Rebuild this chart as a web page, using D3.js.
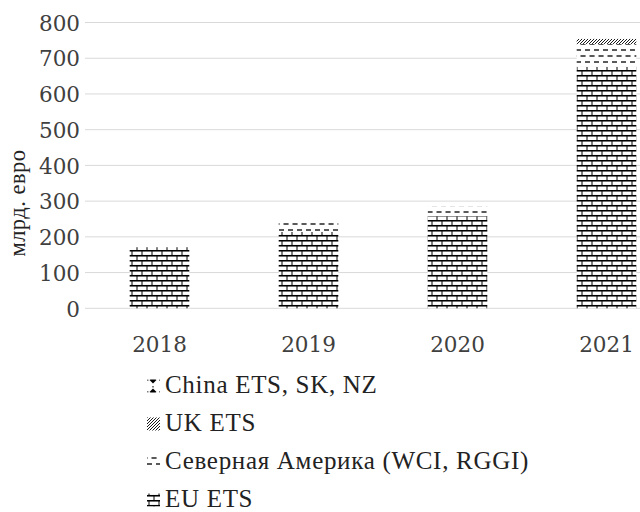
<!DOCTYPE html>
<html>
<head>
<meta charset="utf-8">
<script src="https://cdn.jsdelivr.net/npm/d3@7"></script>
<style>
  html, body { margin: 0; padding: 0; background: #fff; }
  svg { display: block; }
  .serif { font-family: "Liberation Serif", "Times New Roman", "DejaVu Serif"; }
  .slab { font-family: "DejaVu Serif", serif; }
</style>
</head>
<body>
<svg id="chart" width="640" height="512"></svg>
<script>
// ---- data ----
const years = ["2018", "2019", "2020", "2021"];
const euEts = [171, 214, 258, 676];
const northAmerica = [0, 28, 26, 64];
const ukEts = [0, 0, 0, 14];
const chinaEts = [0, 0, 0, 1];
const yTicks = [0, 100, 200, 300, 400, 500, 600, 700, 800];
const seriesNames = ["EU ETS", "Северная Америка (WCI, RGGI)", "UK ETS", "China ETS, SK, NZ"];
const legendOrder = ["China ETS, SK, NZ", "UK ETS", "Северная Америка (WCI, RGGI)", "EU ETS"];
const yTitle = "млрд. евро";

const svg = d3.select("#chart");
const defs = svg.append("defs");

// patterns
const pBrick = defs.append("pattern").attr("id", "p-brick").attr("patternUnits", "userSpaceOnUse")
  .attr("width", 10).attr("height", 10);
pBrick.append("rect").attr("width", 10).attr("height", 10).attr("fill", "#fff");
pBrick.append("line").attr("x1", 0).attr("x2", 10).attr("y1", 0.75).attr("y2", 0.75).attr("stroke", "#000").attr("stroke-width", 1.6);
pBrick.append("line").attr("x1", 0).attr("x2", 10).attr("y1", 5.75).attr("y2", 5.75).attr("stroke", "#000").attr("stroke-width", 1.6);
pBrick.append("line").attr("x1", 2).attr("x2", 2).attr("y1", 0).attr("y2", 5).attr("stroke", "#000").attr("stroke-width", 1);
pBrick.append("line").attr("x1", 7).attr("x2", 7).attr("y1", 5).attr("y2", 10).attr("stroke", "#000").attr("stroke-width", 1);

const pDash = defs.append("pattern").attr("id", "p-dash").attr("patternUnits", "userSpaceOnUse")
  .attr("width", 9).attr("height", 12);
pDash.append("rect").attr("width", 9).attr("height", 12).attr("fill", "#fff");
pDash.append("line").attr("x1", 0).attr("x2", 5).attr("y1", 2).attr("y2", 2).attr("stroke", "#000").attr("stroke-width", 1.3);
pDash.append("line").attr("x1", 4.5).attr("x2", 9.5).attr("y1", 8).attr("y2", 8).attr("stroke", "#000").attr("stroke-width", 1.3);
pDash.append("line").attr("x1", -0.5).attr("x2", 0.5).attr("y1", 8).attr("y2", 8).attr("stroke", "#000").attr("stroke-width", 1.3);

const pHatch = defs.append("pattern").attr("id", "p-hatch").attr("patternUnits", "userSpaceOnUse")
  .attr("width", 3).attr("height", 3);
pHatch.append("rect").attr("width", 3).attr("height", 3).attr("fill", "#fff");
pHatch.append("path").attr("d", "M-0.75,0.75 l1.5,-1.5 M0,3 l3,-3 M2.25,3.75 l1.5,-1.5")
  .attr("stroke", "#000").attr("stroke-width", 0.9);

const pDots = defs.append("pattern").attr("id", "p-dots").attr("patternUnits", "userSpaceOnUse")
  .attr("width", 12).attr("height", 12);
pDots.append("rect").attr("width", 12).attr("height", 12).attr("fill", "#fff");
pDots.append("path").attr("d", "M6,2.5 L9.5,6 L6,9.5 L2.5,6 Z").attr("fill", "#000");
pDots.append("rect").attr("x", 5.5).attr("y", 0).attr("width", 1).attr("height", 1.5).attr("fill", "#000");
pDots.append("rect").attr("x", 0).attr("y", 5.5).attr("width", 1.5).attr("height", 1).attr("fill", "#000");

const patternFor = {
  "EU ETS": "url(#p-brick)",
  "Северная Америка (WCI, RGGI)": "url(#p-dash)",
  "UK ETS": "url(#p-hatch)",
  "China ETS, SK, NZ": "url(#p-dots)"
};

// scales
const x = d3.scaleBand().domain(years).range([85, 681]).paddingInner(0.6).paddingOuter(0.3);
const y = d3.scaleLinear().domain([0, 800]).range([308.3, 22.5]);

// gridlines
svg.append("g").selectAll("line").data(yTicks).join("line")
  .attr("x1", 85).attr("x2", 681)
  .attr("y1", d => y(d)).attr("y2", d => y(d))
  .attr("stroke", "#d9d9d9").attr("stroke-width", 1);

// y axis labels
const yAxis = d3.axisLeft(y).tickValues(yTicks).tickSize(0).tickPadding(0);
const yg = svg.append("g").attr("transform", "translate(80,0)").call(yAxis);
yg.select(".domain").remove();
yg.attr("font-family", null).attr("font-size", null);
yg.selectAll("text").attr("class", "slab").attr("font-size", 21.5).attr("fill", "#404040")
  .attr("dy", "0.36em");

// x axis labels
const xAxis = d3.axisBottom(x).tickSize(0).tickPadding(0);
const xg = svg.append("g").attr("transform", "translate(0,352)").call(xAxis);
xg.select(".domain").remove();
xg.attr("font-family", null).attr("font-size", null);
xg.selectAll("text").attr("class", "slab").attr("font-size", 21.5).attr("fill", "#404040")
  .attr("dy", 0);

// stacked bars
const rows = years.map((yr, i) => ({
  year: yr,
  "EU ETS": euEts[i],
  "Северная Америка (WCI, RGGI)": northAmerica[i],
  "UK ETS": ukEts[i],
  "China ETS, SK, NZ": chinaEts[i]
}));
const stack = d3.stack().keys(seriesNames)(rows);
svg.append("g").selectAll("g").data(stack).join("g")
  .attr("fill", d => patternFor[d.key])
  .selectAll("rect").data(d => d).join("rect")
  .attr("x", d => x(d.data.year))
  .attr("width", x.bandwidth())
  .attr("y", d => y(d[1]))
  .attr("height", d => Math.max(0, y(d[0]) - y(d[1])));

// y title
svg.append("text")
  .attr("class", "serif")
  .attr("transform", "translate(25,203) rotate(-90)")
  .attr("text-anchor", "middle")
  .attr("font-size", 22.5).attr("letter-spacing", 0.5).attr("fill", "#222")
  .text(yTitle);

// legend
const lg = svg.append("g");
const legendY = d3.scalePoint().domain(legendOrder).range([386, 500]);
const li = lg.selectAll("g").data(legendOrder).join("g")
  .attr("transform", d => `translate(147,${legendY(d)})`);
li.append("rect").attr("x", 0).attr("y", -6.5).attr("width", 13).attr("height", 13)
  .attr("fill", d => patternFor[d]);
li.append("text").attr("class", "serif").attr("x", 18).attr("y", 7)
  .attr("font-size", 25).attr("letter-spacing", 0.7).attr("fill", "#222")
  .text(d => d);
</script>
</body>
</html>
